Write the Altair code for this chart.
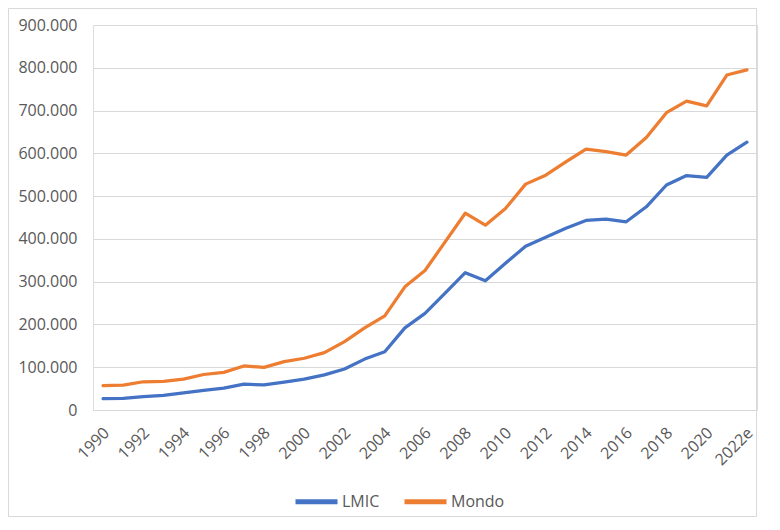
import altair as alt
import pandas as pd

years = [str(y) for y in range(1990, 2022)] + ["2022e"]

lmic = [26500, 27000, 31000, 34000, 40000, 46000, 51000, 60500, 58500, 65000,
        72000, 82000, 96000, 119000, 136000, 192000, 226000, 273000, 321000, 302000,
        343000, 383000, 404000, 425000, 443000, 446000, 440000, 475000, 526000, 548000,
        544000, 596000, 626000]

mondo = [57000, 58000, 66000, 67000, 72000, 83000, 88000, 103000, 99500, 113000,
         121000, 134000, 160000, 192000, 220000, 288000, 326000, 393000, 460000, 432000,
         471000, 528000, 549000, 580000, 610000, 604000, 596000, 637000, 695000, 722000,
         711000, 783000, 795000]

series_names = ["LMIC", "Mondo"]
series_colors = ["#4472C4", "#ED7D31"]
label_years = years[::2]

rows = []
for name, vals in zip(series_names, [lmic, mondo]):
    for y, v in zip(years, vals):
        rows.append({"anno": y, "serie": name, "valore": v})
df = pd.DataFrame(rows)

FONT = "Open Sans"
GREY = "#595959"

lines = alt.Chart(df).mark_line(strokeWidth=3.25, strokeCap="round", strokeJoin="round").encode(
    x=alt.X("anno:N", sort=years, scale=alt.Scale(type="point", padding=0.5),
            axis=alt.Axis(title=None, values=label_years, labelAngle=-45, labelAlign="right",
                          labelBaseline="middle", labelPadding=20, labelOffset=3,
                          ticks=False, grid=False,
                          domain=True, domainColor="#D9D9D9", labelColor=GREY,
                          labelFontSize=16, labelFont=FONT)),
    y=alt.Y("valore:Q", scale=alt.Scale(domain=[0, 900000], nice=False),
            axis=alt.Axis(title=None, values=list(range(0, 900001, 100000)),
                          labelExpr="replace(format(datum.value, ','), ',', '.')",
                          ticks=False, domain=False, grid=True, gridColor="#D9D9D9",
                          gridWidth=1, labelColor=GREY, labelFontSize=16,
                          labelFont=FONT, labelPadding=16)),
    color=alt.Color("serie:N", scale=alt.Scale(domain=series_names, range=series_colors),
                    legend=alt.Legend(title=None, orient="none", direction="horizontal",
                                      legendX=200, legendY=453, symbolType="stroke",
                                      symbolSize=1764, symbolStrokeWidth=5,
                                      labelFontSize=16, labelFont=FONT, labelColor=GREY,
                                      labelOffset=2, columnPadding=14)),
)

border = alt.Chart(pd.DataFrame({"a": [0]})).mark_rect(
    fillOpacity=0, stroke="#D9D9D9", strokeWidth=1
).encode(
    x=alt.value(-84.5), x2=alt.value(663.5), y=alt.value(-16.5), y2=alt.value(491.5)
)

chart = alt.layer(border, lines).properties(
    width=664, height=385,
    autosize=alt.AutoSizeParams(type="none"),
    padding={"left": 85, "top": 17, "right": 15, "bottom": 108},
).configure_view(stroke=None).configure(background="white")

chart.save("out.html", embed_options={"renderer": "svg", "actions": False})
